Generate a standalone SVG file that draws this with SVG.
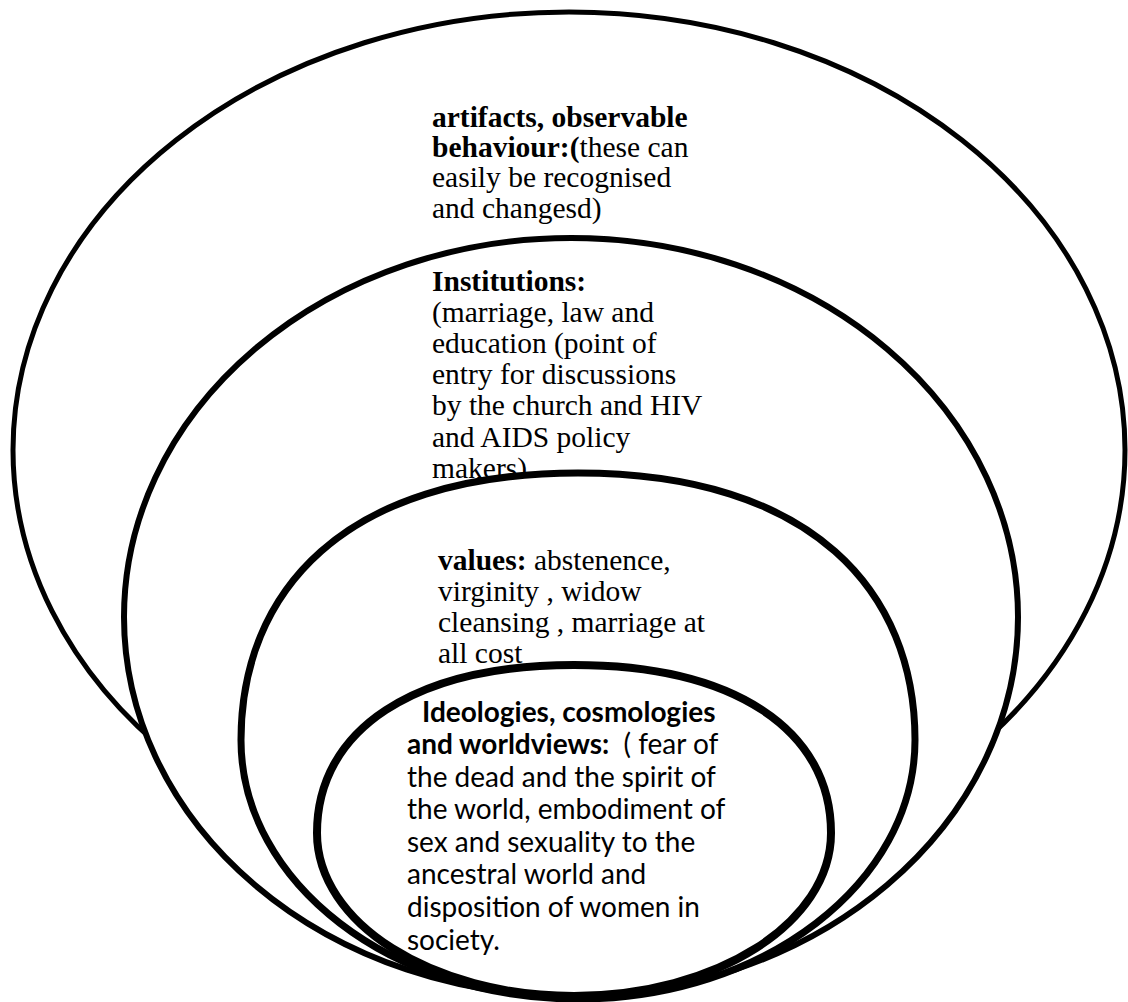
<svg xmlns="http://www.w3.org/2000/svg" width="1128" height="1002" viewBox="0 0 1128 1002">
<style>
.ring{fill:#fff;stroke:#000}
.serif{font-family:"Liberation Serif","Times New Roman",serif;font-size:29.5px;fill:#000}
.sans{font-family:Lato,"Open Sans",sans-serif;font-size:28px;fill:#000}
.b{font-weight:bold}
</style>
<rect width="1128" height="1002" fill="#fff"/>
<g id="artifacts">
<ellipse class="ring" cx="569" cy="450" rx="556" ry="438" stroke-width="5"/>
<text class="serif" x="432" y="127"><tspan class="b">artifacts, observable</tspan></text>
<text class="serif" x="432" y="157"><tspan class="b">behaviour:(</tspan>these can</text>
<text class="serif" x="432" y="187">easily be recognised</text>
<text class="serif" x="432" y="218">and changesd)</text>
</g>
<g id="institutions">
<ellipse class="ring" cx="571" cy="617" rx="447" ry="379" stroke-width="6"/>
<text class="serif b" x="432" y="291">Institutions:</text>
<text class="serif" x="432" y="322">(marriage, law and</text>
<text class="serif" x="432" y="353">education (point of</text>
<text class="serif" x="432" y="384">entry for discussions</text>
<text class="serif" x="432" y="415">by the church and HIV</text>
<text class="serif" x="432" y="447">and AIDS policy</text>
<text class="serif" x="432" y="478">makers)</text>
</g>
<g id="values">
<path class="ring" stroke-width="7" d="M241 740 C241 593 342 473 578 473 C814 473 915 593 915 740 C915 883 764 999 578 999 C392 999 241 883 241 740 Z"/>
<text class="serif" x="438" y="570"><tspan class="b">values:</tspan> abstenence,</text>
<text class="serif" x="438" y="601">virginity , widow</text>
<text class="serif" x="438" y="632">cleansing , marriage at</text>
<text class="serif" x="438" y="663">all cost</text>
</g>
<g id="ideologies">
<path class="ring" stroke-width="8" d="M317 833 C317 729 415 665 574 665 C733 665 831 729 831 833 C831 923 716 996 574 996 C432 996 317 923 317 833 Z"/>
<text class="sans b" x="422" y="722">Ideologies, cosmologies</text>
<text class="sans" x="407" y="754" xml:space="preserve"><tspan class="b">and worldviews:</tspan>  ( fear of</text>
<text class="sans" x="407" y="787">the dead and the spirit of</text>
<text class="sans" x="407" y="819">the world, embodiment of</text>
<text class="sans" x="407" y="852">sex and sexuality to the</text>
<text class="sans" x="407" y="884">ancestral world and</text>
<text class="sans" x="407" y="917">disposition of women in</text>
<text class="sans" x="407" y="950">society.</text>
</g>
<g id="connectors"></g>
</svg>
